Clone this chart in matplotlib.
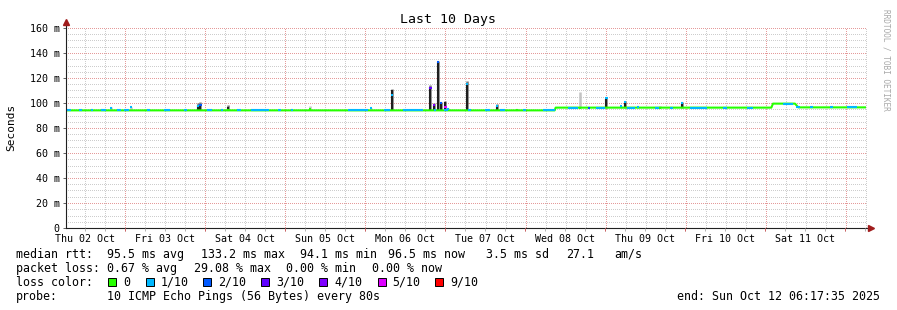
import numpy as np
import matplotlib.pyplot as plt
from matplotlib.patches import Rectangle
from matplotlib.colors import to_rgba

W, H = 897, 310
MONO = "DejaVu Sans Mono"

# x axis: hours since Thu 02 Oct 06:17:35, 10 day window
span = 240.0
first_midnight = 17.71  # Fri 03 Oct 00:00
day_labels = ["Thu 02 Oct", "Fri 03 Oct", "Sat 04 Oct", "Sun 05 Oct", "Mon 06 Oct",
              "Tue 07 Oct", "Wed 08 Oct", "Thu 09 Oct", "Fri 10 Oct", "Sat 11 Oct"]
y_ticks = [0, 20, 40, 60, 80, 100, 120, 140, 160]
y_labels = ["0", "20 m", "40 m", "60 m", "80 m", "100 m", "120 m", "140 m", "160 m"]

loss_names = ["0", "1/10", "2/10", "3/10", "4/10", "5/10", "9/10"]
loss_colors = ["#26ff00", "#00b8ff", "#0059ff", "#5e00ff", "#7e00ff", "#dd00ff", "#ff0000"]

# median rtt baseline (ms)
level_t = [0.3, 146.6, 146.9, 211.6, 212.1, 218.7, 219.7, 240.0]
level_v = [94.1, 94.1, 96.3, 96.3, 99.5, 99.5, 96.5, 96.5]

# stretches of the baseline with packet loss: (start h, end h, median ms, loss idx)
loss_runs = [
    (0.3, 1.5, 94.1, 1), (3.9, 4.8, 94.1, 1), (7.5, 8.1, 94.1, 1), (10.5, 12.0, 94.1, 1),
    (15.3, 16.5, 94.1, 1), (17.4, 18.9, 94.1, 1), (24.3, 25.2, 94.1, 1), (29.4, 31.2, 94.1, 1),
    (35.4, 36.3, 94.1, 1), (42.3, 43.8, 94.1, 1), (46.5, 47.1, 94.1, 1), (51.3, 52.5, 94.1, 1),
    (55.5, 60.9, 94.1, 1), (63.6, 64.5, 94.1, 1), (67.5, 68.1, 94.1, 1), (84.6, 90.6, 94.1, 1),
    (95.4, 97.2, 94.1, 1), (101.1, 107.1, 94.1, 1), (110.4, 111.0, 94.1, 1), (113.4, 114.6, 94.1, 1),
    (120.6, 121.5, 94.1, 1), (125.7, 127.2, 94.1, 1), (130.2, 131.7, 94.1, 1), (137.1, 138.0, 94.1, 1),
    (143.1, 146.7, 94.1, 1), (150.6, 153.6, 96.3, 1), (156.6, 157.2, 96.3, 2), (159.0, 161.7, 96.3, 1),
    (168.3, 170.7, 96.3, 1), (176.7, 178.2, 96.3, 1), (181.2, 182.1, 96.3, 1), (187.2, 192.3, 96.3, 1),
    (197.1, 198.3, 96.3, 1), (204.3, 206.1, 96.3, 1), (215.1, 218.1, 99.5, 1), (219.0, 220.2, 96.5, 1),
    (223.2, 224.1, 96.5, 1), (229.2, 230.1, 96.5, 1), (234.3, 237.3, 96.5, 1),
]

# spikes: time (h), median (ms), loss idx, smoke low / high (ms), dark smoke?
spike_t = [13.5, 19.5, 39.6, 40.3, 48.6, 73.2, 91.5, 97.8, 109.3, 110.3, 111.6, 112.4,
           113.8, 114.6, 120.3, 129.3, 135.2, 154.1, 162.1, 166.4, 167.6, 171.6, 178.1, 184.7]
spike_med = [96.0, 96.5, 97.5, 98.5, 94.5, 95.5, 96.0, 106.4, 112.0, 98.4, 133.2, 100.0,
             97.0, 95.5, 115.0, 98.0, 94.5, 96.3, 104.0, 97.6, 101.0, 96.8, 96.3, 100.0]
spike_loss = [1, 1, 1, 2, 0, 0, 1, 1, 3, 4, 2, 2,
              5, 1, 1, 1, 0, 0, 1, 1, 1, 1, 0, 1]
smoke_lo = [94.1] * 17 + [96.3] * 7
smoke_hi = [96.5, 97.0, 99.8, 100.5, 98.4, 97.6, 96.0, 111.4, 114.4, 100.0, 134.0, 101.0,
            102.0, 96.0, 117.6, 99.2, 95.5, 109.0, 104.6, 97.6, 101.6, 96.8, 97.5, 100.5]
smoke_dark = [0, 0, 1, 1, 1, 0, 0, 1, 1, 1, 1, 1,
              1, 0, 1, 1, 1, 0, 1, 0, 1, 0, 0, 1]

fig = plt.figure(figsize=(W / 100, H / 100), dpi=100)
fig.patch.set_facecolor("white")


def fx(x):
    return x / W


def fy(y):
    return 1 - y / H


PW, PH = 800, 200  # plot area in pixels
ax = fig.add_axes([fx(66), fy(228), PW / W, PH / H])
ax.set_xlim(0, span)
ax.set_ylim(0, 160)
for s in ax.spines.values():
    s.set_visible(False)

# dotted grid rasterised pixel by pixel (1 on / 1 off) so the dots stay crisp
grid = np.zeros((PH, PW, 4))
minor_c = to_rgba("#cdcdcd")
major_c = to_rgba("#e59a9a")
midnights = [first_midnight + 24 * k for k in range(10)]
minor_t = [first_midnight - 12 + 6 * k for k in range(40)]


def hline(v, c):
    r = int(round((160 - v) / 160 * PH))
    if 0 <= r < PH:
        grid[r, 0::2] = c


def vline(t, c):
    col = int(round(t / span * PW))
    if 0 < col < PW:
        grid[1::2, col] = c


for v in range(5, 160, 5):
    if v % 20:
        hline(v, minor_c)
for t in minor_t:
    vline(t, minor_c)
for v in y_ticks[1:]:
    hline(v, major_c)
for t in midnights:
    vline(t, major_c)
ax.imshow(grid, extent=(0, span, 0, 160), aspect="auto", interpolation="nearest", zorder=1)

# smoke
for t, lo, hi, dk in zip(spike_t, smoke_lo, smoke_hi, smoke_dark):
    if dk:
        ax.vlines(t, lo, hi, color="#7a7a7a", lw=1.8, zorder=2)
        ax.vlines(t, lo, hi - 1.2, color="#1e1e1e", lw=1.5, zorder=2)
    else:
        ax.vlines(t, lo, hi, color="#c4c4c4", lw=1.8, zorder=2)

# median line coloured by loss
ax.plot(level_t, level_v, color=loss_colors[0], lw=1.5, solid_capstyle="butt", zorder=3)
for t0, t1, v, l in loss_runs:
    ax.plot([t0, t1], [v, v], color=loss_colors[l], lw=1.5, solid_capstyle="butt", zorder=4)
for t, m, l in zip(spike_t, spike_med, spike_loss):
    ax.plot([t - 0.35, t + 0.35], [m, m], color=loss_colors[l], lw=1.5,
            solid_capstyle="butt", zorder=5)

# axes with arrows
ax.plot([0, 1.005], [0, 0], transform=ax.transAxes, color="#202020", lw=0.8, clip_on=False, zorder=6)
ax.plot([0, 0], [0, 1.03], transform=ax.transAxes, color="#202020", lw=0.8, clip_on=False, zorder=6)
ax.plot([1.006], [0], transform=ax.transAxes, marker=">", ms=4, color="#a01c1c", clip_on=False, zorder=7)
ax.plot([0], [1.03], transform=ax.transAxes, marker="^", ms=4, color="#a01c1c", clip_on=False, zorder=7)

# small tick marks under the x axis: grey every 6 h, red at midnight
ax.vlines([t for t in minor_t if 0 < t < span], -2.4, 0, color="#b0b0b0", lw=0.7, clip_on=False, zorder=6)
ax.vlines(midnights, -2.4, 0, color="#d06060", lw=0.7, clip_on=False, zorder=6)

ax.set_yticks(y_ticks)
ax.set_yticklabels(y_labels, family=MONO, fontsize=7.2)
ax.set_xticks([t - 12 for t in midnights])
ax.set_xticklabels(day_labels, family=MONO, fontsize=7.2)
ax.tick_params(axis="y", length=2, width=0.7, color="#606060", pad=2.5)
ax.tick_params(axis="x", length=0, pad=4.5)

fig.text(fx(448), fy(19), "Last 10 Days", family=MONO, fontsize=9.5, ha="center", va="center")
fig.text(fx(11), fy(127), "Seconds", family=MONO, fontsize=8, rotation=90, ha="center", va="center")
fig.text(fx(886), fy(60), "RRDTOOL / TOBI OETIKER", family=MONO, fontsize=5.6, rotation=270,
         ha="center", va="center", color="#a8a8a8")

# legend
rows = [254.3, 268.3, 282.3, 296.3]
legend_items = [
    (16, 0, "median rtt:"), (107.3, 0, "95.5 ms avg"), (200.7, 0, "133.2 ms max"),
    (300, 0, "94.1 ms min"), (388.3, 0, "96.5 ms now"), (486, 0, "3.5 ms sd"),
    (565.7, 0, "27.1"), (614.3, 0, "am/s"),
    (16, 1, "packet loss:"), (107.3, 1, "0.67 % avg"), (194, 1, "29.08 % max"),
    (286, 1, "0.00 % min"), (372.3, 1, "0.00 % now"),
    (16, 2, "loss color:"),
    (16, 3, "probe:"), (107.3, 3, "10 ICMP Echo Pings (56 Bytes) every 80s"),
]
for x, r, s in legend_items:
    fig.text(fx(x), fy(rows[r]), s, family=MONO, fontsize=8.4, ha="left", va="center")
fig.text(fx(880), fy(rows[3]), "end: Sun Oct 12 06:17:35 2025", family=MONO, fontsize=8.4,
         ha="right", va="center")

box_x = [108.3, 145.7, 203, 261, 319, 377.7, 435.3]
name_x = [123.3, 160.7, 218.3, 276, 334, 392.7, 450]
for bx, nx, c, n in zip(box_x, name_x, loss_colors, loss_names):
    fig.patches.append(Rectangle((fx(bx), fy(rows[2] + 4)), 8 / W, 8 / H, transform=fig.transFigure,
                                 facecolor=c, edgecolor="black", lw=0.7))
    fig.text(fx(nx), fy(rows[2]), n, family=MONO, fontsize=8.4, ha="left", va="center")

fig.savefig("out.png", dpi=100)
